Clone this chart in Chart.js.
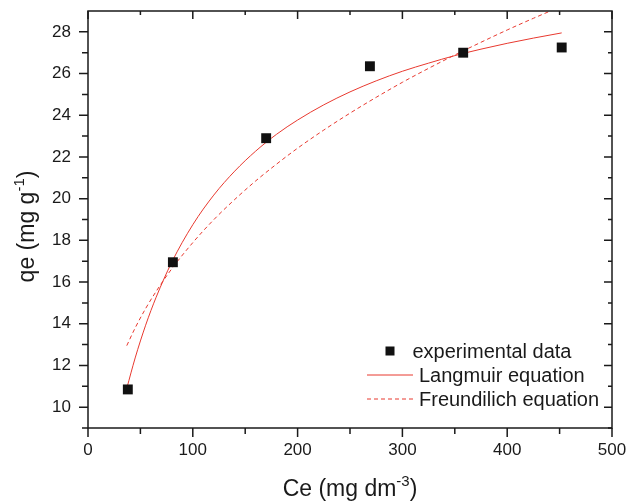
<!DOCTYPE html>
<html><head><meta charset="utf-8">
<script src="https://cdn.jsdelivr.net/npm/chart.js@4"></script>
<style>html,body{margin:0;padding:0;background:#fff}</style>
</head><body>
<canvas id="c" width="627" height="501"></canvas>
<script>
// Experimental data
const ceExp = [38, 81, 170, 269, 358, 452];
const qeExp = [10.85, 16.95, 22.9, 26.35, 27.0, 27.25];
// Fitted curves
const ceFit = [37, 45, 55, 65, 80, 100, 120, 140, 160, 180, 200, 225, 250, 275, 300, 325, 350, 375, 400, 425, 452];
const qeLangmuir = [10.90, 12.36, 13.93, 15.27, 16.96, 18.75, 20.17, 21.32, 22.28, 23.09, 23.77, 24.50, 25.12, 25.65, 26.11, 26.50, 26.86, 27.17, 27.45, 27.70, 27.95];
const qeFreundlich = [12.95, 13.80, 14.73, 15.55, 16.64, 17.89, 18.99, 19.96, 20.85, 21.66, 22.42, 23.29, 24.10, 24.86, 25.58, 26.25, 26.89, 27.50, 28.09, 28.65, 29.23];
// Ticks
const xTicks = [0, 100, 200, 300, 400, 500];
const xMinor = [50, 150, 250, 350, 450];
const yTicks = [10, 12, 14, 16, 18, 20, 22, 24, 26, 28];
const yMinor = [9, 11, 13, 15, 17, 19, 21, 23, 25, 27];
const legendLabels = ['experimental data', 'Langmuir equation', 'Freundilich equation'];

const FONT = '"Liberation Sans", Arial, Helvetica, sans-serif';
const RED = '#e8392f';
const INK = '#1a1a1a';

const toXY = (xs, ys) => xs.map((x, i) => ({x: x, y: ys[i]}));
const noPad = s => { s.paddingTop = 0; s.paddingBottom = 0; s.paddingLeft = 0; s.paddingRight = 0; };

const framePlugin = {
  id: 'frame',
  afterDraw(chart) {
    const {ctx, chartArea: a, scales: {x, y}} = chart;
    ctx.save();
    ctx.strokeStyle = INK;
    ctx.lineWidth = 1.5;
    ctx.strokeRect(a.left, a.top, a.right - a.left, a.bottom - a.top);
    ctx.beginPath();
    const majL = 9, minL = 6, inMaj = 8, inMin = 4;
    xTicks.forEach(v => { const px = x.getPixelForValue(v);
      ctx.moveTo(px, a.bottom); ctx.lineTo(px, a.bottom + majL);
      ctx.moveTo(px, a.top); ctx.lineTo(px, a.top + inMaj); });
    xMinor.forEach(v => { const px = x.getPixelForValue(v);
      ctx.moveTo(px, a.bottom); ctx.lineTo(px, a.bottom + minL);
      ctx.moveTo(px, a.top); ctx.lineTo(px, a.top + inMin); });
    yTicks.forEach(v => { const py = y.getPixelForValue(v);
      ctx.moveTo(a.left, py); ctx.lineTo(a.left - majL, py);
      ctx.moveTo(a.right, py); ctx.lineTo(a.right - inMaj, py); });
    yMinor.forEach(v => { const py = y.getPixelForValue(v);
      ctx.moveTo(a.left, py); ctx.lineTo(a.left - minL, py);
      ctx.moveTo(a.right, py); ctx.lineTo(a.right - inMin, py); });
    ctx.stroke();

    // Legend (inside plot, lower right)
    const lx = a.right - 245, base = a.bottom - 70.5;
    ctx.fillStyle = '#111';
    ctx.fillRect(lx + 18.5, base - 11, 9, 9);
    ctx.font = '20px ' + FONT;
    ctx.textBaseline = 'alphabetic';
    ctx.fillStyle = INK;
    ctx.fillText(legendLabels[0], lx + 45.5, base);
    ctx.strokeStyle = RED; ctx.lineWidth = 1;
    ctx.beginPath(); ctx.moveTo(lx, base + 17.5); ctx.lineTo(lx + 46, base + 17.5); ctx.stroke();
    ctx.setLineDash([4, 3]);
    ctx.beginPath(); ctx.moveTo(lx, base + 41.5); ctx.lineTo(lx + 46, base + 41.5); ctx.stroke();
    ctx.setLineDash([]);
    ctx.fillText(legendLabels[1], lx + 52, base + 24);
    ctx.fillText(legendLabels[2], lx + 52, base + 48);

    // Axis titles with superscripts
    const drawTitle = (parts, cx, cy, rot) => {
      ctx.save();
      ctx.translate(cx, cy);
      ctx.rotate(rot);
      let total = 0;
      parts.forEach(p => { ctx.font = p.size + 'px ' + FONT; total += ctx.measureText(p.t).width; });
      let px = -total / 2;
      ctx.textBaseline = 'alphabetic';
      ctx.textAlign = 'left';
      ctx.fillStyle = INK;
      parts.forEach(p => { ctx.font = p.size + 'px ' + FONT; ctx.fillText(p.t, px, p.dy); px += ctx.measureText(p.t).width; });
      ctx.restore();
    };
    drawTitle([{t: 'Ce (mg dm', size: 23, dy: 0}, {t: '-3', size: 15, dy: -10}, {t: ')', size: 23, dy: 0}],
      (a.left + a.right) / 2, 496, 0);
    drawTitle([{t: 'qe (mg g', size: 23, dy: 0}, {t: '-1', size: 15, dy: -10}, {t: ')', size: 23, dy: 0}],
      34, (a.top + a.bottom) / 2 + 7, -Math.PI / 2);
    ctx.restore();
  }
};

new Chart(document.getElementById('c'), {
  type: 'scatter',
  data: {
    datasets: [
      {label: legendLabels[0], data: toXY(ceExp, qeExp), pointStyle: 'rect', pointRadius: 7, pointHoverRadius: 7,
        backgroundColor: '#111', borderColor: '#111', borderWidth: 0, showLine: false},
      {label: legendLabels[1], data: toXY(ceFit, qeLangmuir), showLine: true, pointRadius: 0, borderColor: RED,
        borderWidth: 1, cubicInterpolationMode: 'monotone', fill: false},
      {label: legendLabels[2], data: toXY(ceFit, qeFreundlich), showLine: true, pointRadius: 0, borderColor: RED,
        borderWidth: 1, borderDash: [4, 3], cubicInterpolationMode: 'monotone', fill: false}
    ]
  },
  options: {
    responsive: false,
    animation: false,
    devicePixelRatio: 1,
    layout: {padding: {top: 11, right: 15, left: 0, bottom: 0}},
    plugins: {legend: {display: false}, tooltip: {enabled: false}},
    scales: {
      x: {
        type: 'linear', min: 0, max: 500,
        afterBuildTicks: s => { s.ticks = xTicks.map(v => ({value: v})); },
        afterFit: s => { s.height = 73; noPad(s); },
        grid: {display: false, drawTicks: false},
        border: {display: false},
        ticks: {padding: 12, color: INK, font: {family: FONT, size: 17}}
      },
      y: {
        type: 'linear', min: 9, max: 29,
        afterBuildTicks: s => { s.ticks = yTicks.map(v => ({value: v})); },
        afterFit: s => { s.width = 88; noPad(s); },
        grid: {display: false, drawTicks: false},
        border: {display: false},
        ticks: {padding: 17, color: INK, font: {family: FONT, size: 17}}
      }
    }
  },
  plugins: [framePlugin]
});
</script>
</body></html>
